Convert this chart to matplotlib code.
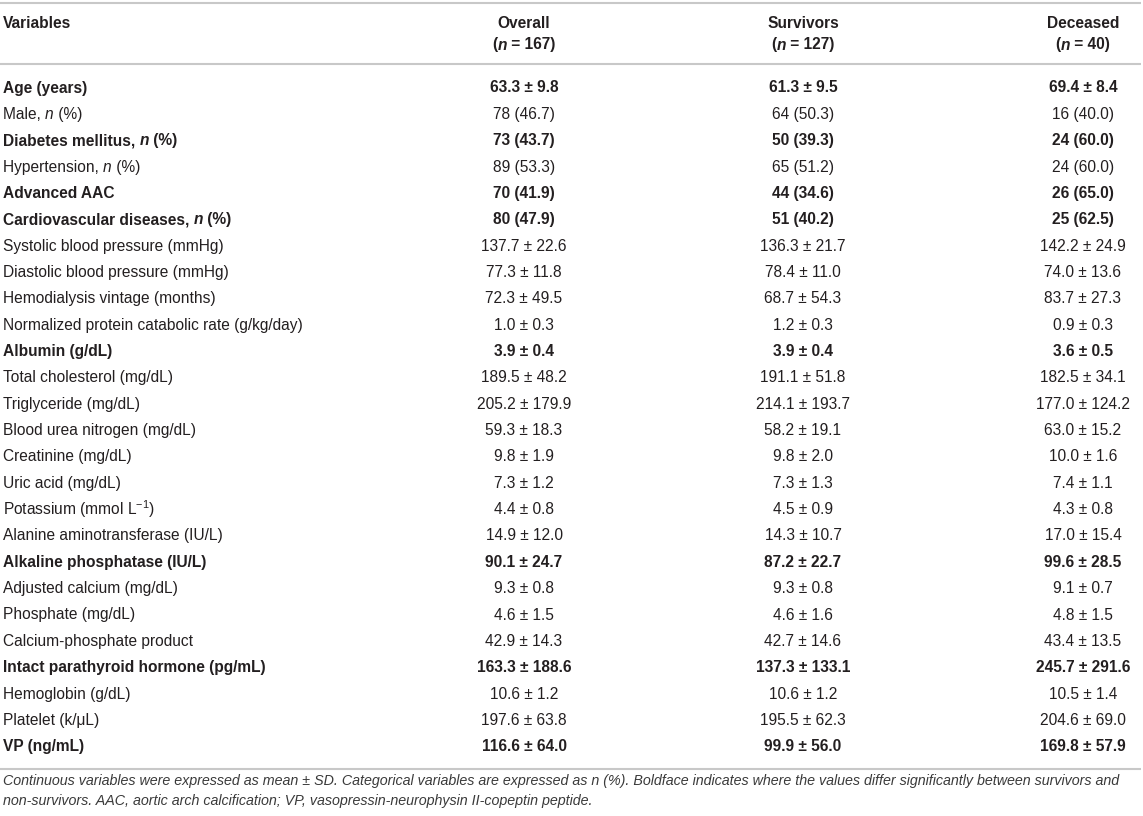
import matplotlib
matplotlib.use('Agg')
import matplotlib.pyplot as plt

W, H = 1143, 816

plt.rcParams['font.family'] = ['Liberation Sans', 'DejaVu Sans']
plt.rcParams['mathtext.fontset'] = 'custom'
plt.rcParams['mathtext.rm'] = 'Liberation Sans'
plt.rcParams['mathtext.it'] = 'Liberation Sans:italic'

# ---- table data ----
groups = ["Overall", "Survivors", "Deceased"]
group_n = ["167", "127", "40"]

variables = [
    "Age (years)", "Male, |n| (%)", "Diabetes mellitus, |n| (%)", "Hypertension, |n| (%)",
    "Advanced AAC", "Cardiovascular diseases, |n| (%)", "Systolic blood pressure (mmHg)",
    "Diastolic blood pressure (mmHg)", "Hemodialysis vintage (months)",
    "Normalized protein catabolic rate (g/kg/day)", "Albumin (g/dL)",
    "Total cholesterol (mg/dL)", "Triglyceride (mg/dL)", "Blood urea nitrogen (mg/dL)",
    "Creatinine (mg/dL)", "Uric acid (mg/dL)", r"Potassium (mmol L$^{-1}$)",
    "Alanine aminotransferase (IU/L)", "Alkaline phosphatase (IU/L)",
    "Adjusted calcium (mg/dL)", "Phosphate (mg/dL)", "Calcium-phosphate product",
    "Intact parathyroid hormone (pg/mL)", "Hemoglobin (g/dL)", "Platelet (k/\u03bcL)",
    "VP (ng/mL)",
]
overall = [
    "63.3 ± 9.8", "78 (46.7)", "73 (43.7)", "89 (53.3)", "70 (41.9)", "80 (47.9)",
    "137.7 ± 22.6", "77.3 ± 11.8", "72.3 ± 49.5", "1.0 ± 0.3", "3.9 ± 0.4",
    "189.5 ± 48.2", "205.2 ± 179.9", "59.3 ± 18.3", "9.8 ± 1.9", "7.3 ± 1.2",
    "4.4 ± 0.8", "14.9 ± 12.0", "90.1 ± 24.7", "9.3 ± 0.8", "4.6 ± 1.5",
    "42.9 ± 14.3", "163.3 ± 188.6", "10.6 ± 1.2", "197.6 ± 63.8", "116.6 ± 64.0",
]
survivors = [
    "61.3 ± 9.5", "64 (50.3)", "50 (39.3)", "65 (51.2)", "44 (34.6)", "51 (40.2)",
    "136.3 ± 21.7", "78.4 ± 11.0", "68.7 ± 54.3", "1.2 ± 0.3", "3.9 ± 0.4",
    "191.1 ± 51.8", "214.1 ± 193.7", "58.2 ± 19.1", "9.8 ± 2.0", "7.3 ± 1.3",
    "4.5 ± 0.9", "14.3 ± 10.7", "87.2 ± 22.7", "9.3 ± 0.8", "4.6 ± 1.6",
    "42.7 ± 14.6", "137.3 ± 133.1", "10.6 ± 1.2", "195.5 ± 62.3", "99.9 ± 56.0",
]
deceased = [
    "69.4 ± 8.4", "16 (40.0)", "24 (60.0)", "24 (60.0)", "26 (65.0)", "25 (62.5)",
    "142.2 ± 24.9", "74.0 ± 13.6", "83.7 ± 27.3", "0.9 ± 0.3", "3.6 ± 0.5",
    "182.5 ± 34.1", "177.0 ± 124.2", "63.0 ± 15.2", "10.0 ± 1.6", "7.4 ± 1.1",
    "4.3 ± 0.8", "17.0 ± 15.4", "99.6 ± 28.5", "9.1 ± 0.7", "4.8 ± 1.5",
    "43.4 ± 13.5", "245.7 ± 291.6", "10.5 ± 1.4", "204.6 ± 69.0", "169.8 ± 57.9",
]
significant = [
    True, False, True, False, True, True, False, False, False, False, True,
    False, False, False, False, False, False, False, True, False, False,
    False, True, False, False, True,
]

footnote = [
    "Continuous variables were expressed as mean ± SD. Categorical variables are expressed as n (%). "
    "Boldface indicates where the values differ significantly between survivors and",
    "non-survivors. AAC, aortic arch calcification; VP, vasopressin-neurophysin II-copeptin peptide.",
]

# ---- layout (pixels) ----
TXT = '#231f20'
RULE = '#c8c8c8'
FS = 11.2
FS_NOTE = 10.3
col_x = [524, 803, 1083]
x_left = 3
y_first, row_h = 88, 26.35

fig = plt.figure(figsize=(W / 100, H / 100), dpi=100)
ax = fig.add_axes([0, 0, 1, 1])
ax.set_xlim(0, W)
ax.set_ylim(H, 0)
ax.axis('off')
renderer = fig.canvas.get_renderer()


def text_width(s, **kw):
    # pad with bars so leading/trailing spaces are counted
    t1 = ax.text(0, 0, '|' + s + '|', **kw)
    t2 = ax.text(0, 0, '||', **kw)
    w = t1.get_window_extent(renderer).width - t2.get_window_extent(renderer).width
    t1.remove()
    t2.remove()
    return w


def draw_runs(x, y, s, bold=False, ha='left', size=FS):
    # segments between '|' are italic
    parts = s.split('|')
    weight = 'bold' if bold else 'normal'
    runs = [(p, 'italic' if i % 2 else 'normal') for i, p in enumerate(parts) if p]
    widths = [text_width(p, fontsize=size, fontweight=weight, fontstyle=st) for p, st in runs]
    total = sum(widths)
    cx = x - total / 2 if ha == 'center' else x
    for (p, st), w in zip(runs, widths):
        ax.text(cx, y, p, fontsize=size, fontweight=weight, fontstyle=st,
                color=TXT, ha='left', va='center')
        cx += w


# rules
for yy in (3, 64, 769):
    ax.plot([0, 1141], [yy, yy], color=RULE, lw=1.5, solid_capstyle='butt')

# header
ax.text(x_left, 23, "Variables", fontsize=FS, fontweight='bold', color=TXT, va='center')
for cx, g, n in zip(col_x, groups, group_n):
    ax.text(cx, 23, g, fontsize=FS, fontweight='bold', color=TXT, ha='center', va='center')
    draw_runs(cx, 45, "(|n| = " + n + ")", bold=True, ha='center')

# body
for i, var in enumerate(variables):
    y = y_first + i * row_h
    b = significant[i]
    draw_runs(x_left, y, var, bold=b)
    for cx, vals in zip(col_x, (overall, survivors, deceased)):
        ax.text(cx, y, vals[i], fontsize=FS, fontweight='bold' if b else 'normal',
                color=TXT, ha='center', va='center')

# footnote
for k, line in enumerate(footnote):
    ax.text(x_left, 781 + k * 20, line, fontsize=FS_NOTE, fontstyle='italic',
            color='#3a3a3a', va='center')

fig.savefig('out.png', dpi=100)
